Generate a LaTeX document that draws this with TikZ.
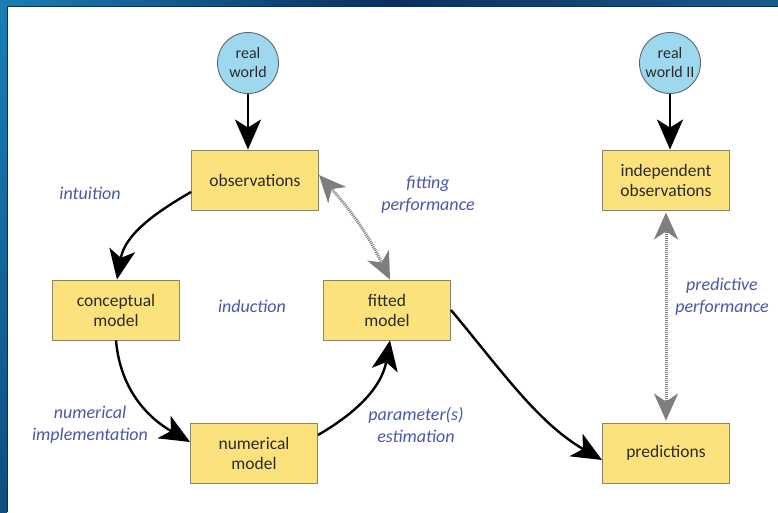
\documentclass[tikz,border=0pt]{standalone}
\usepackage{fontspec}
\setmainfont{Carlito}
\usetikzlibrary{arrows.meta,positioning}
\definecolor{boxfill}{HTML}{FBE27C}
\definecolor{boxline}{HTML}{8C8466}
\definecolor{worldfill}{HTML}{9ED8EE}
\definecolor{worldline}{HTML}{566872}
\definecolor{labelblue}{HTML}{4A58A6}
\definecolor{textdark}{HTML}{2B2B2B}
\definecolor{linkgray}{HTML}{7E7E7E}
\definecolor{frameA}{HTML}{1A7DB6}
\definecolor{frameB}{HTML}{0B2F5C}
\definecolor{frameC}{HTML}{1B5A8C}
\definecolor{frameD}{HTML}{0E4E80}
\tikzset{
  bigtip/.tip={Stealth[length=30pt,width=26pt,inset=8pt]},
  graytip/.tip={Stealth[length=27pt,width=24pt,inset=8pt]},
  stage/.style={draw=boxline, line width=0.9pt, fill=boxfill, minimum width=127pt,
    minimum height=60pt, align=center, font=\fontsize{17.5}{20}\selectfont, text=textdark,
    inner sep=2pt},
  world/.style={circle, draw=worldline, line width=0.9pt, fill=worldfill,
    minimum size=61pt, align=center, font=\fontsize{16}{19}\selectfont, text=textdark,
    inner sep=0pt},
  note/.style={align=center, text=labelblue, font=\itshape\fontsize{18}{22}\selectfont},
  flow/.style={line width=2.4pt, draw=black, -bigtip},
  check/.style={line width=3pt, draw=linkgray, dash pattern=on 1pt off 1pt,
    graytip-graytip},
}
\begin{document}
\begin{tikzpicture}[x=1pt,y=1pt]
\useasboundingbox (0,0) rectangle (778,512);
% window frame
\fill[white] (0,0) rectangle (778,512);
\shade[left color=frameA, right color=frameC, middle color=frameB] (0,505) rectangle (778,512);
\shade[top color=frameA, bottom color=frameD] (0,0) rectangle (7,506);
\draw[frameB, line width=0.8pt] (7,0) -- (7,505.5) -- (778,505.5);

% worlds
\node[world] (rw1) at (248,449) {real\\world};
\node[world] (rw2) at (670,449) {real\\world II};

% modelling stages
\node[stage] (obs) at (255,332) {observations};
\node[stage] (ind) at (666,332) {independent\\observations};
\node[stage] (con) at (116,202) {conceptual\\model};
\node[stage] (fit) at (387,202) {fitted\\model};
\node[stage] (num) at (254,59) {numerical\\model};
\node[stage] (pre) at (666,59) {predictions};

% annotations
\node[note] (l1) at (90,319) {intuition};
\node[note] (l2) at (252,206) {induction};
\node[note] (l3) at (428,317) {fitting\\performance};
\node[note] (l4) at (90,87) {numerical\\implementation};
\node[note] (l5) at (416,87) {parameter(s)\\estimation};
\node[note] (l6) at (722,215) {predictive\\performance};

% connectors
\draw[flow] (rw1.south) -- (rw1.south |- obs.north);
\draw[flow] (rw2.south) -- (rw2.south |- ind.north);
\draw[flow] ([yshift=-12pt]obs.west) to[out=210,in=80] ([xshift=1pt]con.north);
\draw[flow] (con.south) to[out=-85,in=150] ([yshift=11pt]num.west);
\draw[flow] ([yshift=18pt]num.east) to[out=30,in=-100] ([xshift=3pt]fit.south);
\draw[flow] (fit.east) to[out=-50,in=150, looseness=0.9] ([yshift=-7pt]pre.west);
\draw[check] ([yshift=5pt]obs.east) to[bend left=8] ([xshift=3pt]fit.north);
\draw[check] ([yshift=-2pt]ind.south) -- ([yshift=2pt]pre.north);
\end{tikzpicture}
\end{document}
